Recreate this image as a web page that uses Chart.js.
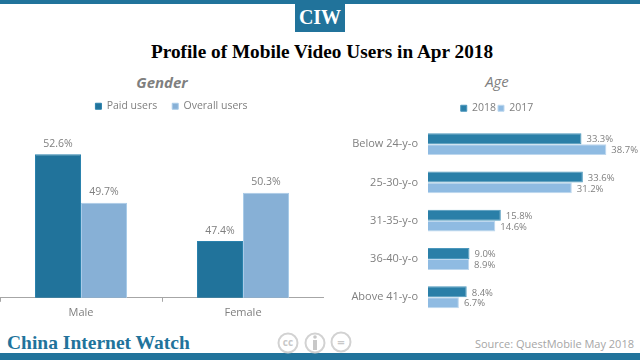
<!DOCTYPE html>
<html lang="en">
<head>
<meta charset="UTF-8">
<title>Profile of Mobile Video Users in Apr 2018</title>
<style>
  html, body { margin: 0; padding: 0; background: #fff; }
  #page { position: relative; width: 640px; height: 360px; overflow: hidden; }
  #page > * { position: absolute; }
  .bar { left: 0; width: 640px; background: #21739b; }
  .head { text-align: center; color: #7f7f7f; font: italic bold 15px "Open Sans", sans-serif; }
</style>
</head>
<body>
<div id="page">
  <div class="bar" style="top:0;height:4px"></div>
  <div class="bar" style="top:353px;height:7px"></div>
  <div style="left:295px;top:0;width:50px;height:32px;background:#21739b;color:#fff;text-align:center;font:bold 20px/34px 'Liberation Serif',serif">CIW</div>
  <div style="left:2px;width:640px;top:40px;text-align:center;color:#000;font:bold 19.25px/24px 'Liberation Serif',serif">Profile of Mobile Video Users in Apr 2018</div>
  <div class="head" style="left:0;width:324px;top:72px">Gender</div>
  <div class="head" style="left:467px;width:60px;top:71px;font-weight:normal">Age</div>
  <canvas id="genderChart" style="left:0;top:86px" width="324" height="237"></canvas>
  <canvas id="ageChart" style="left:330px;top:101px" width="310" height="224"></canvas>
  <div style="left:7px;top:331px;color:#21739b;font:bold 19.5px/24px 'Liberation Serif',serif">China Internet Watch</div>
  <div style="right:6px;top:337px;color:#a6a6a6;font:11px/14px 'Open Sans',sans-serif">Source: QuestMobile May 2018</div>
  <svg style="left:270px;top:325px" width="90" height="35">
    <g fill="none" stroke="#d2d2d2" stroke-width="2">
      <circle cx="18" cy="18" r="9.5"/>
      <circle cx="45" cy="18" r="9.5"/>
      <circle cx="71" cy="17" r="9.5"/>
    </g>
    <text x="18" y="21" text-anchor="middle" fill="#c8c8c8" font-family="Open Sans" font-weight="bold" font-size="10">cc</text>
    <circle cx="45" cy="12" r="1.8" fill="#c8c8c8"/>
    <rect x="43" y="15" width="4" height="10" fill="#c8c8c8"/>
    <text x="71" y="21.5" text-anchor="middle" fill="#c8c8c8" font-family="Open Sans" font-weight="bold" font-size="13">=</text>
  </svg>
</div>
<script src="https://cdn.jsdelivr.net/npm/chart.js"></script>
<script>
  const genderCats = ['Male', 'Female'];
  const paidUsers = [52.6, 47.4];
  const overallUsers = [49.7, 50.3];

  const ageCats = ['Below 24-y-o', '25-30-y-o', '31-35-y-o', '36-40-y-o', 'Above 41-y-o'];
  const age2018 = [33.3, 33.6, 15.8, 9.0, 8.4];
  const age2017 = [38.7, 31.2, 14.6, 8.9, 6.7];

  const font = '"Open Sans", sans-serif';

  // value labels, no datalabels plugin here so draw them from the bar elements
  const valueLabels = {
    id: 'valueLabels',
    afterDatasetsDraw(chart) {
      const c = chart.ctx;
      const horizontal = chart.options.indexAxis === 'y';
      c.save();
      c.fillStyle = '#7f7f7f';
      c.font = (horizontal ? '9.5px ' : '10.5px ') + font;
      chart.data.datasets.forEach((ds, i) => {
        chart.getDatasetMeta(i).data.forEach((bar, j) => {
          const text = ds.data[j].toFixed(1) + '%';
          if (horizontal) {
            c.textAlign = 'left';
            c.textBaseline = 'middle';
            c.fillText(text, bar.x + 5, bar.y + 1);
          } else {
            c.textAlign = 'center';
            c.textBaseline = 'bottom';
            c.fillText(text, bar.x, bar.y - 5);
          }
        });
      });
      c.restore();
    }
  };

  // legend sits off centre in the picture and the plot starts at a fixed height
  const legendTweak = {
    id: 'legendTweak',
    beforeInit(chart, args, opts) {
      const fit = chart.legend.fit;
      chart.legend.fit = function () {
        fit.call(this);
        this.height = opts.height;
      };
    },
    afterLayout(chart, args, opts) {
      chart.legend.left += opts.dx;
      chart.legend.right += opts.dx;
    }
  };

  function legendOpts(padding) {
    return {
      display: true,
      position: 'top',
      labels: { boxWidth: 6, boxHeight: 6, padding: padding, color: '#7f7f7f', font: { family: font, size: 10.5 } }
    };
  }

  new Chart(document.getElementById('genderChart'), {
    type: 'bar',
    data: {
      labels: genderCats,
      datasets: [
        { label: 'Paid users', data: paidUsers, backgroundColor: '#21739b', borderColor: '#2b82ad', borderWidth: 1 },
        { label: 'Overall users', data: overallUsers, backgroundColor: '#87b0d6', borderColor: '#a9cbe8', borderWidth: 1 }
      ]
    },
    options: {
      responsive: false,
      animation: false,
      plugins: {
        legend: legendOpts(15),
        tooltip: { enabled: false },
        legendTweak: { dx: 9.5, height: 45 }
      },
      datasets: { bar: { categoryPercentage: 0.568, barPercentage: 1 } },
      scales: {
        x: {
          grid: { drawOnChartArea: false, drawTicks: true, tickLength: 4, tickColor: '#a6a6a6' },
          border: { color: '#a6a6a6' },
          ticks: { color: '#7f7f7f', padding: 4, font: { family: font, size: 11 } }
        },
        y: { display: false, min: 44, max: 54 }
      }
    },
    plugins: [legendTweak, valueLabels]
  });

  new Chart(document.getElementById('ageChart'), {
    type: 'bar',
    data: {
      labels: ageCats,
      datasets: [
        { label: '2018', data: age2018, backgroundColor: '#2a7fa8', borderColor: '#4b97bc', borderWidth: 1 },
        { label: '2017', data: age2017, backgroundColor: '#8fbbe2', borderColor: '#bdd7ee', borderWidth: 1 }
      ]
    },
    options: {
      indexAxis: 'y',
      responsive: false,
      animation: false,
      plugins: {
        legend: legendOpts(2),
        tooltip: { enabled: false },
        legendTweak: { dx: 12, height: 24 }
      },
      datasets: { bar: { categoryPercentage: 0.57, barPercentage: 1 } },
      scales: {
        x: { display: false, min: 0, max: 46 },
        y: {
          grid: { display: false },
          border: { display: false },
          afterFit(scale) { scale.width = 98; },
          ticks: { color: '#7f7f7f', padding: 2, font: { family: font, size: 11 } }
        }
      }
    },
    plugins: [legendTweak, valueLabels]
  });
</script>
</body>
</html>
